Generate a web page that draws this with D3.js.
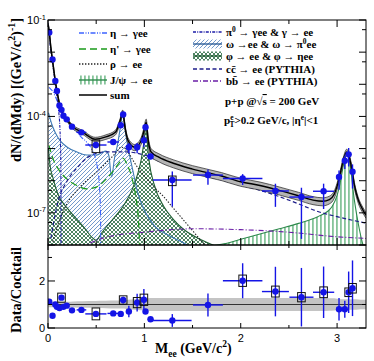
<!DOCTYPE html>
<html><head><meta charset="utf-8">
<script src="https://cdn.jsdelivr.net/npm/d3@7/dist/d3.min.js"></script>
<style>html,body{margin:0;padding:0;background:#fff;}svg{display:block;}</style>
</head><body>
<svg id="chart" width="374" height="361"></svg>
<script>
// ================= DATA =================
// measured data (mass GeV/c^2, dN/dMdy, ratio to cocktail)
const dataM   = [0.013,0.047,0.076,0.093,0.119,0.14,0.16,0.194,0.249,0.347,0.497,0.677,0.755,0.78,0.839,0.925,0.995,1.012,1.064,1.29,1.66,2.02,2.36,2.63,2.86,3.02,3.08,3.12,3.16];
const dataY   = [4.1e-2,5.9e-3,1.26e-3,6.2e-4,2.2e-4,1.6e-4,1.05e-4,8.1e-5,4.8e-5,3.2e-5,1.29e-5,1.6e-5,5.3e-5,1.15e-4,1.1e-5,1.1e-5,1.8e-5,4.6e-5,5.7e-6,1.05e-6,1.5e-6,1.17e-6,4.8e-7,3.1e-7,4.7e-7,1.3e-6,4.2e-6,6.6e-6,1.9e-6];
const ratioY  = [1.12,0.52,1.0,0.9,0.85,1.29,0.9,0.95,0.75,0.77,0.6,0.62,0.6,1.19,0.7,1.08,1.2,0.7,0.37,0.32,0.98,2.01,1.55,1.31,1.52,0.8,0.8,1.52,1.69];
const statErr = [0.03,0.05,0.05,0.05,0.06,0.06,0.07,0.07,0.08,0.1,0.2,0.15,0.15,0.12,0.35,0.35,0.38,0.1,0.2,0.85,0.5,0.37,0.68,0.95,0.72,0.6,0.45,0.58,0.7];
const binHalf = [0.005,0.008,0.008,0.008,0.01,0.01,0.015,0.02,0.03,0.05,0.11,0.06,0.01,0.01,0.02,0.03,0.01,0.01,0.03,0.2,0.155,0.205,0.14,0.125,0.11,0.02,0.02,0.01,0.015];
const sysErr  = [0.05,0.05,0.05,0.05,0.05,0.15,0.05,0.05,0.05,0.08,0.42,0.2,0.08,0.15,0.08,0.2,0.2,0.08,0.1,0.33,0.1,0.12,0.15,0.15,0.15,0.08,0.08,0.12,0.12];

// cocktail sum and its uncertainty
const sumM = [0.003,0.013,0.03,0.047,0.076,0.093,0.12,0.14,0.16,0.2,0.26,0.36,0.49,0.6,0.7,0.75,0.775,0.8,0.83,0.9,0.96,0.99,1.019,1.04,1.07,1.15,1.3,1.5,1.8,2.0,2.2,2.4,2.6,2.75,2.85,2.92,2.97,3.0,3.04,3.07,3.1,3.12,3.15,3.18,3.22,3.27,3.3];
const sumV = [6.9e-2,4.3e-2,1.35e-2,5.6e-3,1.26e-3,6.2e-4,2.4e-4,1.6e-4,1.1e-4,7.6e-5,4.7e-5,3.2e-5,1.95e-5,2.3e-5,3.2e-5,7.6e-5,1.35e-4,4.4e-5,1.8e-5,1.1e-5,1.6e-5,3.0e-5,6.6e-5,1.8e-5,7.8e-6,5.4e-6,3.5e-6,2.3e-6,1.4e-6,9.3e-7,7.1e-7,5.0e-7,3.4e-7,2.5e-7,2.3e-7,2.6e-7,3.8e-7,6.8e-7,2.1e-6,5.0e-6,7.8e-6,6.3e-6,2.6e-6,7.2e-7,2.5e-7,1.2e-7,8.5e-8];
const sumU = [0.12,0.12,0.12,0.12,0.12,0.12,0.12,0.12,0.12,0.12,0.13,0.14,0.15,0.16,0.17,0.17,0.17,0.18,0.2,0.22,0.24,0.25,0.25,0.27,0.28,0.28,0.28,0.28,0.28,0.28,0.28,0.28,0.28,0.28,0.28,0.27,0.26,0.24,0.22,0.22,0.22,0.22,0.22,0.22,0.21,0.2,0.2];

// cocktail components
const piM = [0.002,0.01,0.02,0.03,0.05,0.07,0.09,0.1,0.11,0.12,0.125,0.13,0.133,0.1345,0.135];
const piV = [7.9e-2,4.2e-2,1.9e-2,1.05e-2,3.8e-3,1.4e-3,4.5e-4,2.8e-4,1.5e-4,7e-5,3.5e-5,1.2e-5,3e-6,2e-7,3.2e-9];
const etaM = [0.01,0.03,0.05,0.1,0.15,0.2,0.25,0.3,0.35,0.4,0.45,0.5,0.53,0.545,0.548];
const etaV = [8.0e-4,7.0e-4,6.0e-4,2.8e-4,1.3e-4,7.1e-5,4.5e-5,3.2e-5,2.2e-5,1.6e-5,1.0e-5,4.0e-6,1.0e-6,1.0e-7,3.2e-9];
const etapM = [0.01,0.05,0.1,0.2,0.3,0.4,0.5,0.6,0.7,0.75,0.78,0.82,0.87,0.91,0.94,0.955];
const etapV = [1.26e-5,5.0e-6,2.5e-6,1.1e-6,7.1e-7,5.6e-7,6.3e-7,1.1e-6,2.5e-6,4.0e-6,5.0e-6,3.2e-6,1.26e-6,3.2e-7,5.0e-8,3.2e-9];
const rhoM = [0.05,0.1,0.2,0.3,0.4,0.5,0.6,0.7,0.76,0.8,0.85,0.9,1.0,1.1,1.2,1.3,1.4,1.5,1.6,1.65];
const rhoV = [1.26e-8,4.0e-8,2.0e-7,5.0e-7,1.0e-6,1.8e-6,3.5e-6,7.1e-6,1.1e-5,1.0e-5,6.3e-6,3.5e-6,1.4e-6,6.3e-7,3.2e-7,1.4e-7,6.3e-8,2.8e-8,1.26e-8,8.9e-9];
const omegaM = [0.005,0.02,0.05,0.1,0.13,0.2,0.3,0.4,0.5,0.55,0.6,0.63,0.66,0.69,0.72,0.75,0.77,0.78,0.79,0.81,0.84,0.88,0.93,1.0,1.1,1.25,1.4,1.5];
const omegaV = [1.3e-4,8.9e-5,4.7e-5,2.3e-5,1.7e-5,1.1e-5,7.8e-6,6.3e-6,6.3e-6,7.2e-6,8.3e-6,6.3e-6,1.3e-6,5.0e-6,1.26e-5,4.4e-5,1.05e-4,1.2e-4,8.9e-5,2.6e-5,7.8e-6,2.1e-6,4.4e-7,1.2e-7,4.1e-8,2.0e-8,1.2e-8,7.9e-9];
const phiM = [0.005,0.02,0.05,0.1,0.2,0.3,0.4,0.45,0.5,0.55,0.6,0.7,0.8,0.87,0.93,0.97,1.0,1.019,1.03,1.05,1.1,1.2,1.3,1.4,1.6,1.8];
const phiV = [1.0e-5,3.2e-6,1.26e-6,4.0e-7,1.4e-7,6.3e-8,2.8e-8,1.8e-8,1.4e-8,2.2e-8,3.5e-8,7.9e-8,2.0e-7,5.0e-7,1.6e-6,5.0e-6,2.0e-5,6.0e-5,1.6e-5,4.0e-6,7.9e-7,1.6e-7,6.3e-8,3.2e-8,1.4e-8,7.9e-9];
const jpsiM = [1.5,1.8,2.0,2.2,2.4,2.6,2.8,2.9,2.95,3.0,3.03,3.06,3.08,3.1,3.12,3.14,3.17,3.2,3.23,3.26,3.28];
const jpsiV = [8.9e-9,1.05e-8,1.5e-8,2.2e-8,3.2e-8,4.7e-8,7.6e-8,1.1e-7,1.6e-7,3.5e-7,7.9e-7,2.5e-6,5.0e-6,7.1e-6,5.6e-6,2.5e-6,4.0e-7,1.0e-7,3.2e-8,1.26e-8,7.9e-9];
const ccM = [0.03,0.1,0.2,0.3,0.4,0.5,0.6,0.8,1.0,1.2,1.4,1.6,1.8,2.0,2.2,2.4,2.6,2.8,3.0,3.3];
const ccV = [1.6e-8,2.0e-7,1.0e-6,2.5e-6,5.0e-6,7.1e-6,7.9e-6,7.9e-6,6.3e-6,3.5e-6,2.4e-6,1.5e-6,1.05e-6,7.2e-7,5.0e-7,3.2e-7,1.9e-7,1.1e-7,7.6e-8,4.8e-8];
const bbM = [0.35,0.4,0.5,0.7,1.0,1.5,2.0,2.5,3.0,3.3];
const bbV = [7.9e-9,1.0e-8,1.4e-8,2.0e-8,2.5e-8,3.2e-8,3.0e-8,2.5e-8,1.8e-8,1.6e-8];

// tick labels
const xTickVals = [0,1,2,3];
const xTickLabels = ['0','1','2','3'];
const yTopLabelVals = [1e-1,1e-4,1e-7];
const yTopLabelExp = ['-1','-4','-7'];
const yBotLabelVals = [0,2];
const yBotLabels = ['0','2'];

// legend texts
const legLeft = [
  [['η → γee','n']],
  [['η\' → γee','n']],
  [['ρ → ee','n']],
  [['J/ψ → ee','n']],
  [['sum','n']]
];
const legRight = [
  [['π','n'],['0','sup'],[' → γee & γ → ee','n']],
  [['ω →ee & ω → π','n'],['0','sup'],['ee','n']],
  [['φ → ee & φ → ηee','n']],
  [['cc̄ → ee (PYTHIA)','n']],
  [['bb̄ → ee (PYTHIA)','n']]
];
const label1 = [['p+p @','n'],['√','n'],['s','ol'],[' = 200 GeV','n']];
const label2 = [['p','n'],['e','sup'],['T','subb'],['>0.2 GeV/c, |η','n'],['e','sup'],['|<1','n']];
const yTitleTop = [['dN/(dMdy) [(GeV/c','n'],['2','sup'],[')','n'],['-1','sup'],[']','n']];
const yTitleBot = [['Data/Cocktail','n']];
const xTitle = [['M','n'],['ee','sub'],[' (GeV/c','n'],['2','sup'],[')','n']];

// ================= DRAWING =================
const svg = d3.select('#chart');
const X0=48, X1=366, TY0=20, TY1=245, BY1=328;
const x  = d3.scaleLinear().domain([0,3.3]).range([X0,X1]);
const yT = d3.scaleLog().domain([1e-8,1e-1]).range([TY1,TY0]);
const yB = d3.scaleLinear().domain([0,3.53]).range([BY1,TY1]);
const SERIF = "'Liberation Serif','Times New Roman',serif";
const SANS  = "'Liberation Sans',Arial,sans-serif";

const defs = svg.append('defs');
defs.append('clipPath').attr('id','cT').append('rect').attr('x',X0).attr('y',TY0).attr('width',X1-X0).attr('height',TY1-TY0);
defs.append('clipPath').attr('id','cB').append('rect').attr('x',X0).attr('y',TY1).attr('width',X1-X0).attr('height',BY1-TY1);
function pat(id,w,h,bg,draw){
  const p=defs.append('pattern').attr('id',id).attr('patternUnits','userSpaceOnUse').attr('width',w).attr('height',h);
  p.append('rect').attr('width',w).attr('height',h).attr('fill',bg); draw(p);
}
pat('pOm',4,4,'#fff',p=>p.append('path').attr('d','M-1,1L1,-1M0,4L4,0M3,5L5,3').attr('stroke','#6b95c8').attr('stroke-width',0.95));
pat('pPhi',4,4,'#fff',p=>p.append('path').attr('d','M0,0L4,4M4,0L0,4').attr('stroke','#3a7650').attr('stroke-width',0.9));
pat('pJ',4,4,'#fff',p=>p.append('rect').attr('x',0).attr('width',1.8).attr('height',4).attr('fill','#86c49a'));

function rich(t, parts, fs){
  let cur=0;
  parts.forEach(([s,mode])=>{
    let target = 0, small=false, dx=null;
    if(mode==='sup'){target=-fs*0.4; small=true;}
    else if(mode==='sub'){target=fs*0.25; small=true;}
    else if(mode==='subb'){target=fs*0.3; small=true; dx=-fs*0.36;}
    const ts=t.append('tspan').text(s).attr('dy',target-cur);
    if(small) ts.attr('font-size',fs*0.68);
    if(dx!==null) ts.attr('dx',dx);
    if(mode==='ol') ts.style('text-decoration','overline');
    cur=target;
  });
}

const zip=(m,v)=>m.map((d,i)=>[d,v[i]]);
const yv=v=>yT(Math.max(v,1e-9));
const lineT=d3.line().x(d=>x(d[0])).y(d=>yv(d[1])).curve(d3.curveMonotoneX);
const areaT=d3.area().x(d=>x(d[0])).y0(TY1+2).y1(d=>yv(d[1])).curve(d3.curveMonotoneX);

const gT=svg.append('g').attr('clip-path','url(#cT)');
// filled components
gT.append('path').attr('d',areaT(zip(omegaM,omegaV))).attr('fill','url(#pOm)');
gT.append('path').attr('d',areaT(zip(phiM,phiV))).attr('fill','url(#pPhi)');
gT.append('path').attr('d',areaT(zip(jpsiM,jpsiV))).attr('fill','url(#pJ)');
gT.append('path').attr('d',lineT(zip(omegaM,omegaV))).attr('fill','none').attr('stroke','#3f7bb5').attr('stroke-width',1.1);
gT.append('path').attr('d',lineT(zip(phiM,phiV))).attr('fill','none').attr('stroke','#1f5e33').attr('stroke-width',1.1);
gT.append('path').attr('d',lineT(zip(jpsiM,jpsiV))).attr('fill','none').attr('stroke','#2e8a4c').attr('stroke-width',1.1);

const styles = {
  rho:{c:'#222',d:'1.4,1.6',w:1.1},
  eta:{c:'#3d63ff',d:'5,1.5,1,1.5,1,1.5',w:1.1},
  etap:{c:'#1a9a1a',d:'7,4',w:1.2},
  pi:{c:'#1c1ca8',d:'3,1.2,1,1.2',w:1.1},
  cc:{c:'#1e1e8a',d:'4,2.5',w:1.2},
  bb:{c:'#6b1fa6',d:'5,2,1,2',w:1.1}
};
function drawLine(m,v,s){gT.append('path').attr('d',lineT(zip(m,v))).attr('fill','none').attr('stroke',s.c).attr('stroke-dasharray',s.d).attr('stroke-width',s.w);}
drawLine(rhoM,rhoV,styles.rho);
drawLine(etapM,etapV,styles.etap);
drawLine(bbM,bbV,styles.bb);
drawLine(ccM,ccV,styles.cc);
drawLine(etaM,etaV,styles.eta);
drawLine(piM,piV,styles.pi);

// sum band + line
const sumPts=sumM.map((m,i)=>({m,v:sumV[i],u:sumU[i]}));
const bandT=d3.area().x(d=>x(d.m)).y0(d=>yv(d.v*(1-d.u))).y1(d=>yv(d.v*(1+d.u))).curve(d3.curveMonotoneX);
gT.append('path').attr('d',bandT(sumPts)).attr('fill','#b4b4b4');
gT.append('path').attr('d',d3.line().x(d=>x(d.m)).y(d=>yv(d.v*(1-d.u))).curve(d3.curveMonotoneX)(sumPts)).attr('fill','none').attr('stroke','#222').attr('stroke-width',0.7);
gT.append('path').attr('d',d3.line().x(d=>x(d.m)).y(d=>yv(d.v*(1+d.u))).curve(d3.curveMonotoneX)(sumPts)).attr('fill','none').attr('stroke','#222').attr('stroke-width',0.7);
gT.append('path').attr('d',d3.line().x(d=>x(d.m)).y(d=>yv(d.v)).curve(d3.curveMonotoneX)(sumPts)).attr('fill','none').attr('stroke','#000').attr('stroke-width',1.4);

// data points
const DCOL='#1414e6', R=3.2;
function drawData(g, yfun, vals){
  vals.forEach((v,i)=>{
    const m=dataM[i], e=statErr[i], cx=x(m), cy=yfun(v);
    g.append('line').attr('x1',x(m-binHalf[i])).attr('x2',x(m+binHalf[i])).attr('y1',cy).attr('y2',cy).attr('stroke',DCOL).attr('stroke-width',1.4);
    g.append('line').attr('x1',cx).attr('x2',cx).attr('y1',yfun(v*(1+e))).attr('y2',yfun(Math.max(v*(1-e),1e-12))).attr('stroke',DCOL).attr('stroke-width',1.4);
    const bt=yfun(v*(1+sysErr[i])), bb=yfun(v*(1-sysErr[i]));
    if((bb-bt)/2>R+0.3) g.append('rect').attr('x',cx-3.8).attr('y',bt).attr('width',7.6).attr('height',bb-bt).attr('fill','none').attr('stroke','#111').attr('stroke-width',1);
    g.append('circle').attr('cx',cx).attr('cy',cy).attr('r',R).attr('fill',DCOL);
  });
}
drawData(gT, v=>yT(Math.max(v,1e-12)), dataY);

// ratio panel
const gB=svg.append('g').attr('clip-path','url(#cB)');
const bandB=d3.area().x(d=>x(d.m)).y0(d=>yB(1-d.u)).y1(d=>yB(1+d.u)).curve(d3.curveMonotoneX);
gB.append('path').attr('d',bandB(sumPts)).attr('fill','#c4c4c4');
gB.append('line').attr('x1',x(0)).attr('x2',x(3.3)).attr('y1',yB(1)).attr('y2',yB(1)).attr('stroke','#333').attr('stroke-width',1.2);
drawData(gB, v=>yB(v), ratioY);

// frames
svg.append('rect').attr('x',X0).attr('y',TY0).attr('width',X1-X0).attr('height',TY1-TY0).attr('fill','none').attr('stroke','#000').attr('stroke-width',1);
svg.append('rect').attr('x',X0).attr('y',TY1).attr('width',X1-X0).attr('height',BY1-TY1).attr('fill','none').attr('stroke','#000').attr('stroke-width',1);

const tk=svg.append('g').attr('stroke','#000').attr('stroke-width',1);
// x ticks
[0,0.5,1,1.5,2,2.5,3].forEach(v=>{
  const major=Number.isInteger(v), px=x(v);
  const Lt=major?7:4, Lb=major?5:3;
  tk.append('line').attr('x1',px).attr('x2',px).attr('y1',TY1).attr('y2',TY1-Lt);
  tk.append('line').attr('x1',px).attr('x2',px).attr('y1',TY0).attr('y2',TY0+Lt);
  tk.append('line').attr('x1',px).attr('x2',px).attr('y1',BY1).attr('y2',BY1-Lb);
  tk.append('line').attr('x1',px).attr('x2',px).attr('y1',TY1).attr('y2',TY1+Lb);
});
// y ticks top (decades)
d3.range(-8,0).forEach(p=>{
  const py=yT(Math.pow(10,p));
  tk.append('line').attr('x1',X0).attr('x2',X0+7).attr('y1',py).attr('y2',py);
  tk.append('line').attr('x1',X1).attr('x2',X1-7).attr('y1',py).attr('y2',py);
  const py5=yT(5*Math.pow(10,p-1));
  if(p>-8){
    tk.append('line').attr('x1',X0).attr('x2',X0+4).attr('y1',py5).attr('y2',py5);
    tk.append('line').attr('x1',X1).attr('x2',X1-4).attr('y1',py5).attr('y2',py5);
  }
});
// y ticks bottom
[0,1,2,3].forEach(v=>{
  const py=yB(v), L=(v%2===0)?7:4;
  tk.append('line').attr('x1',X0).attr('x2',X0+L).attr('y1',py).attr('y2',py);
  tk.append('line').attr('x1',X1).attr('x2',X1-L).attr('y1',py).attr('y2',py);
});

// tick labels
xTickVals.forEach((v,i)=>svg.append('text').attr('x',x(v)).attr('y',342).attr('text-anchor','middle').attr('font-family',SANS).attr('font-size',11).text(xTickLabels[i]));
yTopLabelVals.forEach((v,i)=>{
  const t=svg.append('text').attr('x',46).attr('y',yT(v)+4).attr('text-anchor','end').attr('font-family',SANS).attr('font-size',11);
  rich(t,[['10','n'],[yTopLabelExp[i],'sup']],11);
});
yBotLabelVals.forEach((v,i)=>svg.append('text').attr('x',45).attr('y',yB(v)+4).attr('text-anchor','end').attr('font-family',SANS).attr('font-size',11).text(yBotLabels[i]));

// titles
rich(svg.append('text').attr('transform','translate(21,90) rotate(-90)').attr('text-anchor','middle').attr('font-family',SERIF).attr('font-weight','bold').attr('font-size',14.5), yTitleTop, 14.5);
rich(svg.append('text').attr('transform','translate(21,290) rotate(-90)').attr('text-anchor','middle').attr('font-family',SERIF).attr('font-weight','bold').attr('font-size',14.5), yTitleBot, 14.5);
rich(svg.append('text').attr('x',155).attr('y',353).attr('font-family',SERIF).attr('font-weight','bold').attr('font-size',14), xTitle, 14);

// legend
const LF=11;
const legLeftY=[33,49,64,80,95], legRightY=[32,44,56,69,81];
function legLine(x0,x1,y,s){svg.append('line').attr('x1',x0).attr('x2',x1).attr('y1',y).attr('y2',y).attr('stroke',s.c).attr('stroke-dasharray',s.d).attr('stroke-width',s.w+0.2);}
function legFill(x0,x1,y,fill,lc){
  svg.append('rect').attr('x',x0).attr('y',y-4.5).attr('width',x1-x0).attr('height',9).attr('fill',fill);
  svg.append('line').attr('x1',x0).attr('x2',x1).attr('y1',y).attr('y2',y).attr('stroke',lc).attr('stroke-width',1.4);
}
legLine(79,107,legLeftY[0],styles.eta);
legLine(79,107,legLeftY[1],styles.etap);
legLine(79,107,legLeftY[2],styles.rho);
legFill(79,107,legLeftY[3],'url(#pJ)','#2e8a4c');
legLine(79,107,legLeftY[4],{c:'#000',d:null,w:1.3});
legLine(193,222,legRightY[0],styles.pi);
legFill(193,222,legRightY[1],'url(#pOm)','#2f5f9a');
legFill(193,222,legRightY[2],'url(#pPhi)','#1f5e33');
legLine(193,222,legRightY[3],styles.cc);
legLine(193,222,legRightY[4],styles.bb);
legLeft.forEach((p,i)=>rich(svg.append('text').attr('x',110).attr('y',legLeftY[i]+4).attr('font-family',SERIF).attr('font-weight','bold').attr('font-size',LF),p,LF));
legRight.forEach((p,i)=>rich(svg.append('text').attr('x',226).attr('y',legRightY[i]+4).attr('font-family',SERIF).attr('font-weight','bold').attr('font-size',LF),p,LF));
rich(svg.append('text').attr('x',225).attr('y',105).attr('font-family',SERIF).attr('font-weight','bold').attr('font-size',LF),label1,LF);
rich(svg.append('text').attr('x',224).attr('y',124).attr('font-family',SERIF).attr('font-weight','bold').attr('font-size',LF),label2,LF);
</script>
</body></html>
